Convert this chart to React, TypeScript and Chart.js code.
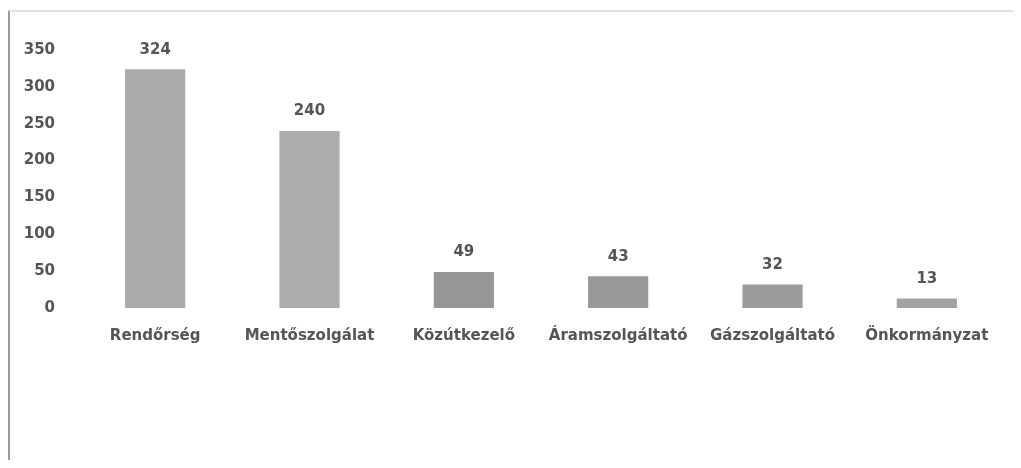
import React, { useEffect, useRef } from "react";
import { Chart, registerables } from "chart.js";

Chart.register(...registerables);

const categories = ["Rendőrség", "Mentőszolgálat", "Közútkezelő", "Áramszolgáltató", "Gázszolgáltató", "Önkormányzat"];
const values = [324, 240, 49, 43, 32, 13];
const barColors = ["#ababab", "#adadad", "#979797", "#999999", "#9c9c9c", "#a3a3a3"];
const yMin = 0;
const yMax = 350;
const yStep = 50;

const dataLabelPlugin = {
  id: "dataLabels",
  afterDatasetsDraw(chart: any) {
    const ctx = chart.ctx;
    const meta = chart.getDatasetMeta(0);
    ctx.save();
    ctx.font = "bold 15px 'DejaVu Sans'";
    ctx.fillStyle = "#555555";
    ctx.textAlign = "center";
    ctx.textBaseline = "bottom";
    meta.data.forEach((bar: any, i: number) => {
      ctx.fillText(String(values[i]), bar.x, bar.y - 12);
    });
    ctx.restore();
  },
};

export default function App() {
  const ref = useRef<HTMLCanvasElement>(null);
  useEffect(() => {
    if (!ref.current) return;
    const chart = new Chart(ref.current, {
      type: "bar",
      data: {
        labels: categories,
        datasets: [
          {
            data: values,
            backgroundColor: barColors,
            barPercentage: 0.39,
            categoryPercentage: 1,
          },
        ],
      },
      options: {
        animation: false,
        responsive: false,
        layout: { padding: { top: 38, right: 17, left: 0, bottom: 0 } },
        plugins: { legend: { display: false }, tooltip: { enabled: false } },
        scales: {
          x: {
            grid: { display: false, drawTicks: false },
            border: { display: false },
            ticks: {
              padding: 19,
              color: "#555555",
              font: { family: "'DejaVu Sans'", size: 15, weight: "bold" },
              maxRotation: 0,
              autoSkip: false,
            },
            afterFit: (s: any) => {
              s.height = 152;
            },
          },
          y: {
            min: yMin,
            max: yMax,
            grid: { display: false, drawTicks: false },
            border: { display: false },
            ticks: {
              stepSize: yStep,
              padding: 23,
              color: "#555555",
              font: { family: "'DejaVu Sans'", size: 15, weight: "bold" },
            },
            afterFit: (s: any) => {
              s.width = 68;
            },
          },
        },
      },
      plugins: [dataLabelPlugin],
    });
    return () => chart.destroy();
  }, []);
  return (
    <div
      style={{
        position: "relative",
        marginTop: 2,
        width: 1013,
        height: 450,
        borderTop: "2px solid #e0e0e0",
        borderLeft: "2px solid #9a9a9a",
        boxSizing: "border-box",
        background: "#fff",
      }}
    >
      <canvas ref={ref} width={1011} height={448} style={{ display: "block" }} />
    </div>
  );
}
